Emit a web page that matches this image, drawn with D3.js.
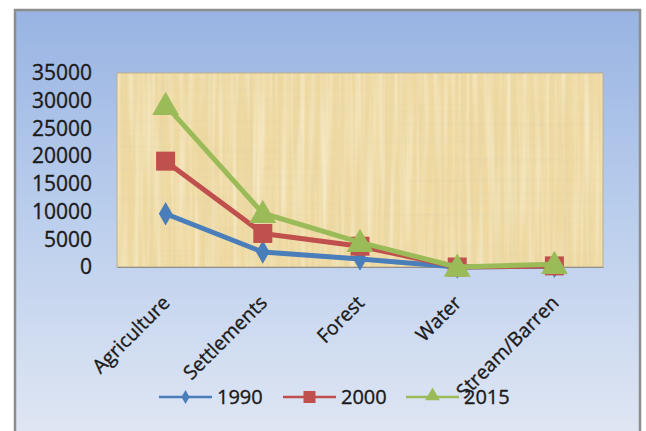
<!DOCTYPE html>
<html>
<head>
<meta charset="utf-8">
<script src="https://cdn.jsdelivr.net/npm/d3@7"></script>
<style>
  html, body { margin: 0; padding: 0; background: #ffffff; }
  svg { display: block; }
  text { font-family: "Open Sans", "DejaVu Sans", sans-serif; fill: #1a1a1a; stroke: #1a1a1a; stroke-width: 0.35px; }
</style>
</head>
<body>
<svg id="chart" width="646" height="431"></svg>
<script>
// Land-use area by class, three survey years
const categories = ["Agriculture", "Settlements", "Forest", "Water", "Stream/Barren"];
const years = ["1990", "2000", "2015"];
const values1990 = [9600, 2700, 1450, 0, 150];
const values2000 = [19100, 6050, 3750, 0, 200];
const values2015 = [29200, 9700, 4450, 0, 500];
const yTicks = [0, 5000, 10000, 15000, 20000, 25000, 30000, 35000];

const seriesColors = ["#4a7ebb", "#c0504d", "#9bbb59"];
const seriesShapes = ["diamond", "square", "triangle"];
const seriesValues = [values1990, values2000, values2015];

const svg = d3.select("#chart");
const defs = svg.append("defs");

// chart area background: blue vertical gradient
const bg = defs.append("linearGradient").attr("id", "bgGrad")
  .attr("x1", 0).attr("y1", 0).attr("x2", 0).attr("y2", 1);
bg.append("stop").attr("offset", "0%").attr("stop-color", "#99b4e3");
bg.append("stop").attr("offset", "45%").attr("stop-color", "#b9cdec");
bg.append("stop").attr("offset", "100%").attr("stop-color", "#e2e8f4");

// papyrus-like fibre texture for the plot area
function fibre(id, freq, seed, rgb, a, b) {
  const f = defs.append("filter").attr("id", id)
    .attr("x", 0).attr("y", 0).attr("width", 1).attr("height", 1);
  f.append("feTurbulence").attr("type", "fractalNoise")
    .attr("baseFrequency", freq).attr("numOctaves", 2).attr("seed", seed).attr("result", "n");
  f.append("feColorMatrix").attr("in", "n").attr("type", "matrix")
    .attr("values", `0 0 0 0 ${rgb[0]}  0 0 0 0 ${rgb[1]}  0 0 0 0 ${rgb[2]}  ${a} 0 0 0 ${b}`);
}
fibre("fibV", "0.25 0.004", 3, [0.75, 0.64, 0.36], 0.9, -0.38);
fibre("fibH", "0.004 0.25", 7, [0.75, 0.64, 0.36], 0.9, -0.40);
fibre("fibL", "0.18 0.006", 11, [1, 0.98, 0.88], 1.0, -0.42);
fibre("fibM", "0.02 0.02", 5, [0.86, 0.74, 0.4], 0.6, -0.25);

const frame = { x: 15, y: 10, w: 625, h: 440 };
svg.append("rect")
  .attr("x", frame.x).attr("y", frame.y)
  .attr("width", frame.w).attr("height", frame.h)
  .attr("fill", "url(#bgGrad)")
  .attr("stroke", "#8d8d8d").attr("stroke-width", 2.5);

const plot = { left: 117, right: 603, top: 73, bottom: 267 };

const x = d3.scalePoint().domain(categories)
  .range([plot.left, plot.right]).padding(0.5);
const y = d3.scaleLinear().domain([0, 35000])
  .range([plot.bottom, plot.top]);

// plot area
const pw = plot.right - plot.left, ph = plot.bottom - plot.top;
const pa = svg.append("g").attr("transform", `translate(${plot.left},${plot.top})`);
pa.append("rect").attr("width", pw).attr("height", ph).attr("fill", "#efd9a1");
["fibM", "fibV", "fibH", "fibL"].forEach(id =>
  pa.append("rect").attr("width", pw).attr("height", ph).attr("filter", `url(#${id})`));
pa.append("rect").attr("width", pw).attr("height", ph)
  .attr("fill", "none").attr("stroke", "#bcae8c").attr("stroke-width", 1);

// y axis labels
const yAxis = svg.append("g")
  .attr("transform", `translate(${plot.left},0)`)
  .call(d3.axisLeft(y).tickValues(yTicks).tickSize(0).tickPadding(25).tickFormat(d3.format("d")));
yAxis.select(".domain").remove();
yAxis.selectAll("text").style("font-size", "21px").attr("fill", "#1a1a1a");

// x axis line and rotated category labels
const xAxis = svg.append("g")
  .attr("transform", `translate(0,${plot.bottom})`)
  .call(d3.axisBottom(x).tickSize(0).tickFormat(d => d));
xAxis.select(".domain").attr("stroke", "#8f8f8f").attr("stroke-width", 1.2);
xAxis.selectAll(".tick text")
  .attr("x", 0).attr("y", 0).attr("dy", 0)
  .attr("text-anchor", "end")
  .attr("transform", "translate(5,37) rotate(-45)")
  .style("font-size", "19.5px").attr("fill", "#1a1a1a");

// marker paths
function markerPath(shape, s) {
  if (shape === "diamond") return d3.symbol(d3.symbolDiamond, s * s * 0.55)();
  if (shape === "square") return d3.symbol(d3.symbolSquare, s * s)();
  return d3.symbol(d3.symbolTriangle, s * s * 0.78)();
}

const line = d3.line().x((d, i) => x(categories[i])).y(d => y(d));

seriesValues.forEach((vals, k) => {
  const g = svg.append("g");
  g.append("path").datum(vals)
    .attr("d", line)
    .attr("fill", "none")
    .attr("stroke", seriesColors[k])
    .attr("stroke-width", 5)
    .attr("stroke-linejoin", "round")
    .attr("stroke-linecap", "round");
  const size = k === 0 ? 17 : (k === 1 ? 19 : 20);
  g.selectAll("path.mk").data(vals).enter().append("path")
    .attr("class", "mk")
    .attr("d", markerPath(seriesShapes[k], size))
    .attr("transform", (d, i) => `translate(${x(categories[i])},${y(d) + (k === 2 ? 2 : 0)})`)
    .attr("fill", seriesColors[k]);
});

// legend
const legendX = [159, 283, 406];
const legendY = 397;
years.forEach((yr, k) => {
  const g = svg.append("g").attr("transform", `translate(${legendX[k]},${legendY})`);
  g.append("line").attr("x1", 0).attr("x2", 53).attr("y1", 0).attr("y2", 0)
    .attr("stroke", seriesColors[k]).attr("stroke-width", 2.5);
  const size = k === 0 ? 10 : (k === 1 ? 12 : 11);
  g.append("path").attr("d", markerPath(seriesShapes[k], size))
    .attr("transform", `translate(26.5,${k === 2 ? -1 : 0})`)
    .attr("fill", seriesColors[k]);
  g.append("text").attr("x", 58).attr("y", 0).attr("dy", "0.35em")
    .style("font-size", "20px").text(yr);
});
</script>
</body>
</html>
